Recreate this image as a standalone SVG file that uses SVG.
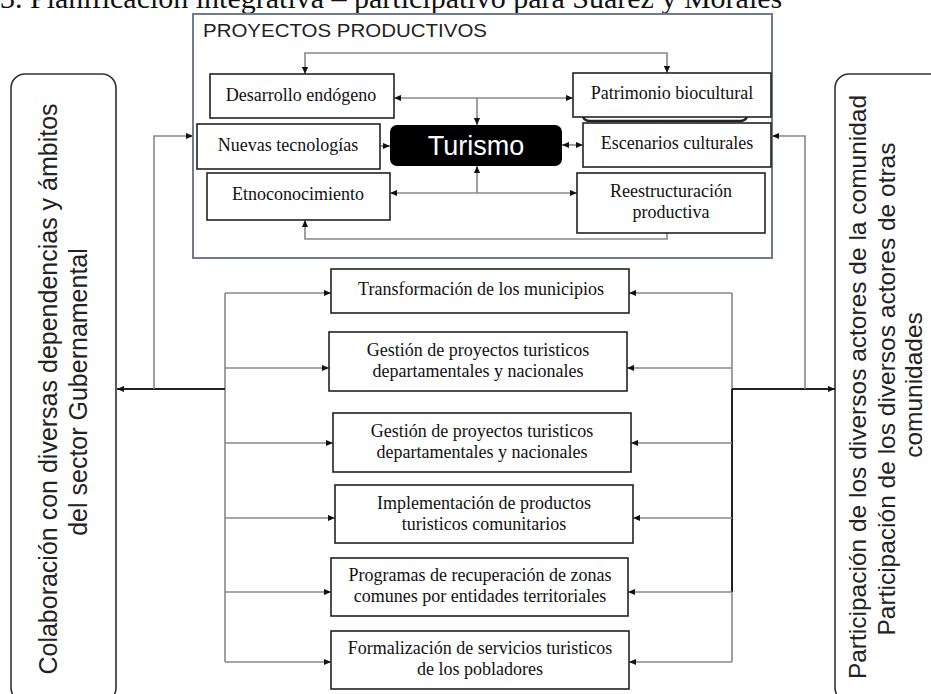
<svg xmlns="http://www.w3.org/2000/svg" width="931" height="694" viewBox="0 0 931 694">
<defs>
<marker id="ah" viewBox="0 0 8 8" refX="8" refY="4" markerWidth="7" markerHeight="7" markerUnits="userSpaceOnUse" orient="auto-start-reverse"><path d="M0,0.5 L8,4 L0,7.5 z" fill="#111"/></marker>
<style>
.box{fill:#fff;stroke:#222;stroke-width:1.6}
.t{font-family:"Liberation Serif","Times New Roman",serif;font-size:18px;fill:#111;text-anchor:middle}
.s{font-family:"Liberation Sans",Arial,sans-serif;fill:#222}
.ln{fill:none;stroke:#888;stroke-width:1.6}
.bk{fill:none;stroke:#222;stroke-width:2}
</style>
</defs>
<rect width="931" height="694" fill="#fff"/>
<text x="0" y="8" style="font-family:'Liberation Serif','Times New Roman',serif;font-size:30px;fill:#111">3. Planificación integrativa – participativo para Suárez y Morales</text>

<g id="proyectos">
<rect x="193" y="14" width="579" height="244" fill="#fff" stroke="#6f7c8c" stroke-width="2"/>
<text class="s" x="203" y="37" font-size="19" textLength="284" lengthAdjust="spacingAndGlyphs">PROYECTOS PRODUCTIVOS</text>
</g>

<g id="colaboracion">
<rect x="11" y="74" width="105" height="628" rx="14" fill="#fff" stroke="#333" stroke-width="1.6"/>
<text class="s" font-size="25" text-anchor="middle" transform="translate(57,389) rotate(-90)">Colaboración con diversas dependencias y ámbitos</text>
<text class="s" font-size="25" text-anchor="middle" transform="translate(87,392) rotate(-90)">del sector Gubernamental</text>
</g>

<g id="participacion">
<rect x="835" y="74" width="130" height="628" rx="14" fill="#fff" stroke="#333" stroke-width="1.6"/>
<text class="s" font-size="24.5" text-anchor="middle" transform="translate(866,387) rotate(-90)">Participación de los diversos actores de la comunidad</text>
<text class="s" font-size="24.5" text-anchor="middle" transform="translate(895,389) rotate(-90)">Participación de los diversos actores de otras</text>
<text class="s" font-size="24.5" text-anchor="middle" transform="translate(922,385) rotate(-90)">comunidades</text>
</g>

<g id="connectors">
<path class="ln" d="M667,73 V53 H305 V74" marker-start="url(#ah)" marker-end="url(#ah)"/>
<path class="ln" d="M305,220 V239 H667 V233" marker-start="url(#ah)"/>
<path class="ln" d="M394,98 H573" marker-start="url(#ah)" marker-end="url(#ah)"/>
<path class="ln" d="M477,98 V125" marker-end="url(#ah)"/>
<path class="ln" d="M390,193 H577" marker-start="url(#ah)" marker-end="url(#ah)"/>
<path class="ln" d="M477,193 V166" marker-end="url(#ah)"/>
<path class="ln" d="M380,146 H390" marker-end="url(#ah)"/>
<path class="ln" d="M562,145 H583" marker-start="url(#ah)" marker-end="url(#ah)"/>

<path class="ln" d="M225,293 V662"/>
<path class="ln" d="M225,293 H331" marker-end="url(#ah)"/>
<path class="ln" d="M225,368 H329" marker-end="url(#ah)"/>
<path class="ln" d="M225,443 H333" marker-end="url(#ah)"/>
<path class="ln" d="M225,518 H335" marker-end="url(#ah)"/>
<path class="ln" d="M225,592 H331" marker-end="url(#ah)"/>
<path class="ln" d="M225,662 H331" marker-end="url(#ah)"/>
<path class="bk" d="M225,389 H117" marker-end="url(#ah)"/>
<path class="ln" d="M154,389 V136 H193" marker-end="url(#ah)"/>

<path class="ln" d="M732,293 V662"/>
<path class="bk" d="M732,389 V592"/>
<path class="ln" d="M732,293 H629" marker-end="url(#ah)"/>
<path class="ln" d="M732,368 H627" marker-end="url(#ah)"/>
<path class="ln" d="M732,443 H631" marker-end="url(#ah)"/>
<path class="ln" d="M732,518 H633" marker-end="url(#ah)"/>
<path class="ln" d="M732,592 H628" marker-end="url(#ah)"/>
<path class="ln" d="M732,662 H629" marker-end="url(#ah)"/>
<path class="bk" d="M732,389 H835" marker-end="url(#ah)"/>
<path class="ln" d="M805,389 V136 H772" marker-end="url(#ah)"/>
</g>

<g id="desarrollo"><rect class="box" x="210" y="74" width="184" height="44"/><text class="t" x="301" y="101">Desarrollo endógeno</text></g>
<g id="nuevas"><rect class="box" x="197" y="124" width="183" height="45"/><text class="t" x="288" y="151">Nuevas tecnologías</text></g>
<g id="etno"><rect class="box" x="207" y="173" width="183" height="47"/><text class="t" x="298" y="200">Etnoconocimiento</text></g>
<g id="turismo"><rect x="390" y="125" width="172" height="41" rx="7" fill="#000"/><text x="476" y="155" text-anchor="middle" style="font-family:'Liberation Sans',Arial,sans-serif;font-size:27px;fill:#fff">Turismo</text></g>
<g id="patrimonio"><path d="M583,117 Q585,121 590,121 H740 Q745,121 747,117" fill="none" stroke="#222" stroke-width="2.5"/><rect class="box" x="573" y="73" width="198" height="44"/><text class="t" x="672" y="99">Patrimonio biocultural</text></g>
<g id="escenarios"><rect class="box" x="583" y="123" width="188" height="44"/><text class="t" x="677" y="149">Escenarios culturales</text></g>
<g id="reestructuracion"><rect class="box" x="577" y="173" width="188" height="60"/><text class="t" x="671" y="197">Reestructuración</text><text class="t" x="671" y="218">productiva</text></g>

<g id="transformacion"><rect class="box" x="331" y="269" width="298" height="44"/><text class="t" x="481" y="295">Transformación de los municipios</text></g>
<g id="gestion1"><rect class="box" x="329" y="332" width="298" height="59"/><text class="t" x="478" y="356">Gestión de proyectos turisticos</text><text class="t" x="478" y="377">departamentales y nacionales</text></g>
<g id="gestion2"><rect class="box" x="333" y="413" width="298" height="59"/><text class="t" x="482" y="437">Gestión de proyectos turisticos</text><text class="t" x="482" y="458">departamentales y nacionales</text></g>
<g id="implementacion"><rect class="box" x="335" y="485" width="298" height="58"/><text class="t" x="484" y="509">Implementación de productos</text><text class="t" x="484" y="530">turisticos comunitarios</text></g>
<g id="programas"><rect class="box" x="331" y="558" width="297" height="58"/><text class="t" x="480" y="581">Programas de recuperación de zonas</text><text class="t" x="480" y="602">comunes por entidades territoriales</text></g>
<g id="formalizacion"><rect class="box" x="331" y="631" width="298" height="58"/><text class="t" x="480" y="654">Formalización de servicios turisticos</text><text class="t" x="480" y="675">de los pobladores</text></g>
</svg>
